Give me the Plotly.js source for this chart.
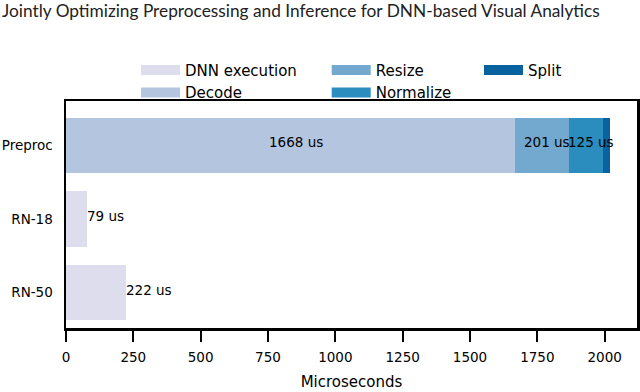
<!DOCTYPE html>
<html>
<head>
<meta charset="utf-8">
<script src="https://cdn.plot.ly/plotly-3.0.1.min.js"></script>
<style>
  html, body { margin: 0; padding: 0; background: #fff; }
  #chart { width: 640px; height: 392px; }
</style>
</head>
<body>
<div id="chart"></div>
<script>
// Values (microseconds)
var categories = ['RN-50', 'RN-18', 'Preproc'];   // bottom to top
var dnnModels = ['RN-18', 'RN-50'];
var dnnTimes = [79, 222];
var stageNames = ['Decode', 'Resize', 'Normalize', 'Split'];
var stageTimes = [1668, 201, 125, 27];
var labelledStages = ['Decode', 'Resize', 'Normalize'];
var xTicks = [0, 250, 500, 750, 1000, 1250, 1500, 1750, 2000];

var dnnColor = '#dedded';
var stageColors = ['#b4c5e0', '#74a9cf', '#2b8cbe', '#07629f'];

var baseFont = {family: 'DejaVu Sans', size: 13.5, color: '#000'};

var data = [];

// bar traces, legend is drawn with separate dummy entries below
data.push({
    type: 'bar',
    orientation: 'h',
    y: dnnModels,
    x: dnnTimes,
    width: 0.75,
    marker: {color: dnnColor},
    showlegend: false,
    hoverinfo: 'x'
});
stageNames.forEach(function (name, i) {
    data.push({
        type: 'bar',
        orientation: 'h',
        y: ['Preproc'],
        x: [stageTimes[i]],
        width: 0.75,
        marker: {color: stageColors[i]},
        showlegend: false,
        hoverinfo: 'x'
    });
});

// legend entries: three columns like the original
function legendEntry(name, color, legendId) {
    return {
        type: 'scatter',
        mode: 'lines',
        x: [null],
        y: [null],
        name: name,
        line: {color: color, width: 11},
        legend: legendId,
        hoverinfo: 'skip'
    };
}
data.push(legendEntry('DNN execution', dnnColor, 'legend'));
data.push(legendEntry('Decode', stageColors[0], 'legend'));
data.push(legendEntry('Resize', stageColors[1], 'legend2'));
data.push(legendEntry('Normalize', stageColors[2], 'legend2'));
data.push(legendEntry('Split', stageColors[3], 'legend3'));

// value labels
var annotations = [];
var start = 0;
stageNames.forEach(function (name, i) {
    if (labelledStages.indexOf(name) !== -1) {
        annotations.push({
            x: start + stageTimes[i] / 2,
            y: 'Preproc',
            text: stageTimes[i] + ' us',
            showarrow: false,
            xanchor: 'center',
            xshift: 5,
            yshift: 3,
            font: baseFont
        });
    }
    start += stageTimes[i];
});
dnnModels.forEach(function (model, i) {
    annotations.push({
        x: dnnTimes[i],
        y: model,
        text: dnnTimes[i] + ' us',
        showarrow: false,
        xanchor: 'left',
        xshift: -2,
        yshift: 3,
        font: baseFont
    });
});

var legendStyle = function (x) {
    return {
        x: x,
        y: 1.208,
        xanchor: 'left',
        yanchor: 'top',
        orientation: 'v',
        traceorder: 'normal',
        bgcolor: 'rgba(0,0,0,0)',
        itemwidth: 39,
        font: {family: 'DejaVu Sans', size: 15, color: '#000'}
    };
};

var layout = {
    width: 640,
    height: 392,
    margin: {l: 66, r: 3, t: 101, b: 64},
    paper_bgcolor: '#fff',
    plot_bgcolor: '#fff',
    barmode: 'stack',
    font: baseFont,
    title: {
        text: 'Jointly Optimizing Preprocessing and Inference for DNN-based Visual Analytics',
        x: 0,
        xref: 'container',
        xanchor: 'left',
        y: 0.987,
        yanchor: 'top',
        pad: {l: 2},
        font: {family: 'Lato', size: 17.3, color: '#222'}
    },
    xaxis: {
        range: [0, 2120],
        tickvals: xTicks,
        ticks: 'outside',
        ticklen: 11,
        tickwidth: 2,
        tickcolor: '#000',
        ticklabelstandoff: 4,
        showline: true,
        linewidth: 2.5,
        linecolor: '#000',
        mirror: true,
        showgrid: false,
        zeroline: false,
        tickfont: baseFont,
        title: {
            text: 'Microseconds',
            standoff: 13,
            font: {family: 'DejaVu Sans', size: 15, color: '#000'}
        }
    },
    yaxis: {
        type: 'category',
        categoryorder: 'array',
        categoryarray: categories,
        range: [-0.48, 2.6],
        ticks: '',
        ticklabelstandoff: 8,
        showline: true,
        linewidth: 2.5,
        linecolor: '#000',
        mirror: true,
        showgrid: false,
        zeroline: false,
        tickfont: baseFont
    },
    legend: legendStyle(0.1226),
    legend2: legendStyle(0.4566),
    legend3: legendStyle(0.7233),
    annotations: annotations
};

Plotly.newPlot('chart', data, layout, {displayModeBar: false, staticPlot: true});
</script>
</body>
</html>
